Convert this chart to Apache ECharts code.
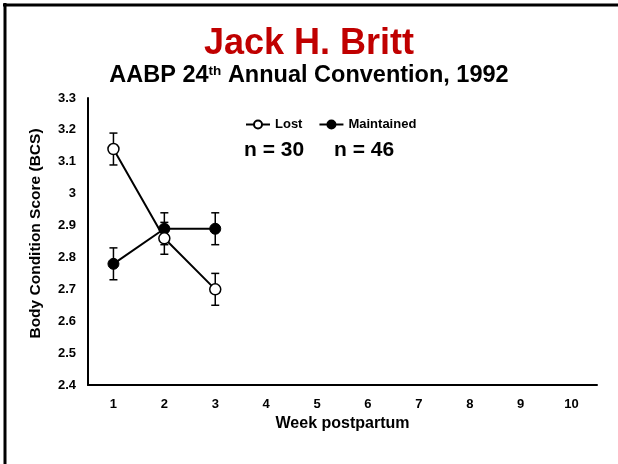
<!DOCTYPE html>
<html>
<head>
<meta charset="utf-8">
<script src="https://cdn.jsdelivr.net/npm/echarts@6/dist/echarts.min.js"></script>
<style>html,body{margin:0;padding:0;background:#fff}#c{width:618px;height:464px}</style>
</head>
<body>
<div id="c"></div>
<script>
var weeks = ['1','2','3','4','5','6','7','8','9','10'];
var lostMean = [3.14, 2.86, 2.70];
var lostSE = [0.05, 0.05, 0.05];
var maintMean = [2.78, 2.89, 2.89];
var maintSE = [0.05, 0.05, 0.05];
var yTicks = [2.4, 3.3, 0.1];

var F = '"Liberation Sans", Arial, sans-serif';
function errData(m, se) { return m.map(function (v, i) { return [i, v - se[i], v + se[i]]; }); }
function errSeries(m, se) {
  return {
    type: 'custom', silent: true, z: 3,
    data: errData(m, se),
    renderItem: function (params, api) {
      var x = api.value(0), lo = api.coord([x, api.value(1)]), hi = api.coord([x, api.value(2)]);
      var w = 4;
      var st = { stroke: '#000', lineWidth: 1.5 };
      return { type: 'group', children: [
        { type: 'line', shape: { x1: lo[0], y1: lo[1], x2: hi[0], y2: hi[1] }, style: st },
        { type: 'line', shape: { x1: lo[0] - w, y1: lo[1], x2: lo[0] + w, y2: lo[1] }, style: st },
        { type: 'line', shape: { x1: hi[0] - w, y1: hi[1], x2: hi[0] + w, y2: hi[1] }, style: st }
      ]};
    }
  };
}
var chart = echarts.init(document.getElementById('c'));
chart.setOption({
  animation: false,
  backgroundColor: '#fff',
  textStyle: { fontFamily: F },
  title: {
    text: 'Jack H. Britt',
    subtext: '{a|AABP 24}{s|th}{a| Annual Convention, 1992}',
    left: 'center', top: 21, itemGap: 2,
    textStyle: { fontFamily: F, fontSize: 36, fontWeight: 'bold', color: '#c00000' },
    subtextStyle: { rich: {
      a: { fontFamily: F, fontSize: 23.5, fontWeight: 'bold', color: '#000', verticalAlign: 'bottom' },
      s: { fontFamily: F, fontSize: 13.5, fontWeight: 'bold', color: '#000', padding: [0, 0, 10, 0], verticalAlign: 'bottom' }
    } }
  },
  legend: {
    left: 240, top: 113, itemGap: 16, itemWidth: 24, itemHeight: 10,
    textStyle: { fontFamily: F, fontSize: 13, fontWeight: 'bold', color: '#000' },
    data: ['Lost', 'Maintained']
  },
  grid: { left: 88, top: 98, right: 21, bottom: 79, containLabel: false },
  xAxis: {
    type: 'category', data: weeks, boundaryGap: true,
    name: 'Week postpartum', nameLocation: 'middle', nameGap: 30,
    nameTextStyle: { fontFamily: F, fontSize: 16, fontWeight: 'bold', color: '#000' },
    axisLine: { lineStyle: { color: '#000', width: 2 } },
    axisTick: { show: false },
    axisLabel: { fontFamily: F, fontSize: 13, fontWeight: 'bold', color: '#000', margin: 13 }
  },
  yAxis: {
    type: 'value', min: yTicks[0], max: yTicks[1], interval: yTicks[2],
    name: 'Body Condition Score (BCS)', nameLocation: 'middle', nameGap: 44,
    nameTextStyle: { fontFamily: F, fontSize: 15.5, fontWeight: 'bold', color: '#000', padding: [0, 0, 0, 16] },
    axisLine: { show: true, lineStyle: { color: '#000', width: 2 } },
    axisTick: { show: false },
    splitLine: { show: false },
    axisLabel: { fontFamily: F, fontSize: 13, fontWeight: 'bold', color: '#000', margin: 12,
      formatter: function (v) { return String(parseFloat(v.toFixed(1))); } }
  },
  series: [
    errSeries(maintMean, maintSE),
    errSeries(lostMean, lostSE),
    { name: 'Maintained', type: 'line', data: maintMean, z: 4,
      symbol: 'circle', symbolSize: 11,
      lineStyle: { color: '#000', width: 2 },
      itemStyle: { color: '#000', borderColor: '#000', borderWidth: 1 } },
    { name: 'Lost', type: 'line', data: lostMean, z: 5,
      symbol: 'circle', symbolSize: 11,
      lineStyle: { color: '#000', width: 2 },
      itemStyle: { color: '#fff', borderColor: '#000', borderWidth: 1.5 } }
  ],
  graphic: [
    { type: 'line', shape: { x1: 3, y1: 5, x2: 618, y2: 5 }, style: { stroke: '#000', lineWidth: 3 } },
    { type: 'line', shape: { x1: 5, y1: 3, x2: 5, y2: 464 }, style: { stroke: '#000', lineWidth: 3 } },
    { type: 'text', left: 244, top: 140, style: { text: 'n = 30', font: 'bold 21px ' + F, fill: '#000' } },
    { type: 'text', left: 334, top: 140, style: { text: 'n = 46', font: 'bold 21px ' + F, fill: '#000' } }
  ]
});
</script>
</body>
</html>
